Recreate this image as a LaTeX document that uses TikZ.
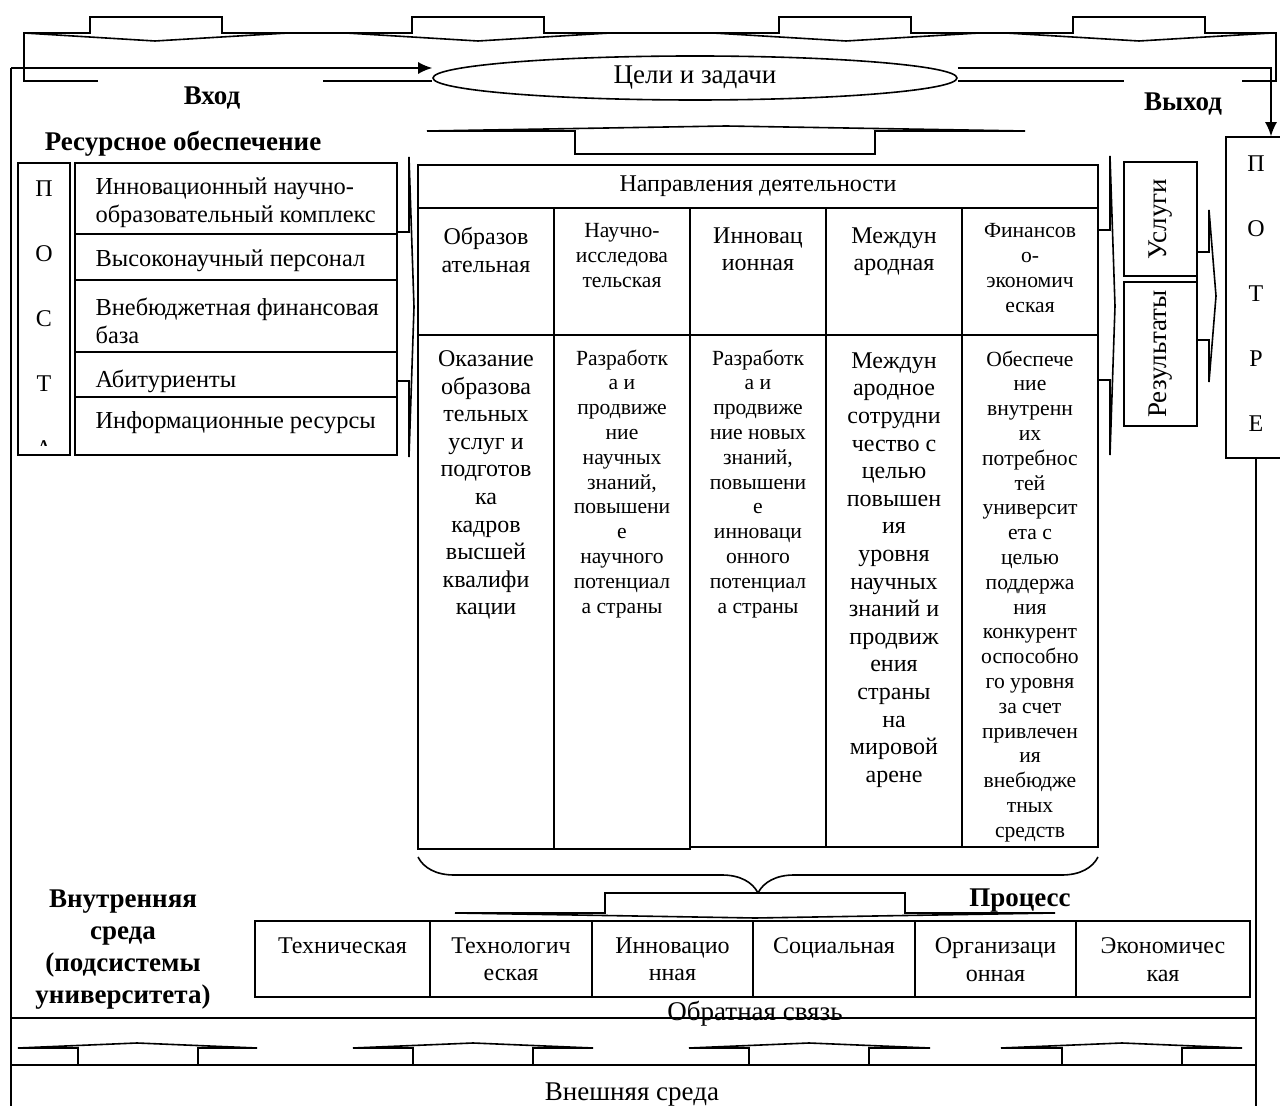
\documentclass[tikz,border=0pt]{standalone}
\usepackage{fontspec}
\setmainfont{Liberation Serif}
\usetikzlibrary{positioning, fit, shapes.geometric, arrows.meta, decorations.pathreplacing}

\begin{document}
\begin{tikzpicture}[
          x=0.5pt, y=-0.5pt,
          font=\fontsize{12}{13.8}\selectfont,
          wire/.style={line width=0.8pt},
          cell/.style={draw, line width=0.8pt, inner sep=0pt},
          barrow/.style={draw, fill=white, line width=0.8pt},
          big/.style={align=center, inner sep=0pt, font=\fontsize{12}{13.8}\selectfont},
          small/.style={align=center, inner sep=0pt, font=\fontsize{10.8}{12.4}\selectfont},
          res/.style={align=left, inner sep=0pt, font=\fontsize{12.2}{14.2}\selectfont},
          bigger/.style={align=center, inner sep=0pt, font=\fontsize{13.5}{15}\selectfont},
          lbl/.style={align=center, inner sep=0pt, font=\fontsize{13.5}{16}\selectfont\bfseries},
          tip/.style={-{Latex[length=7pt, width=6pt]}}
        ]
        \useasboundingbox (0,0) rectangle (1280,1106);

        % goals and the input / output frame
        \node[ellipse, draw, line width=0.8pt, minimum width=262pt, minimum height=22pt, inner sep=0pt, bigger] (goal) at (695,78) {Цели и задачи};
        \coordinate (inA) at (11,68);
        \coordinate (outA) at (1271,68);
        \coordinate (vL) at (323,81);
        \coordinate (vR) at (1124,81);
        \draw[wire] (98,81) -- (24,81) -- (24,33) -- (1276,33) -- (1276,81) -- (1242,81);
        \draw[wire] (vL) -- (vL -| goal.west);
        \draw[wire] (goal.east |- vR) -- (vR);
        \draw[barrow] (24,33) -- (90,33) -- (90,17) -- (222,17) -- (222,33) -- (288,33) -- (155,41) -- cycle;
        \draw[barrow] (346,33) -- (412,33) -- (412,17) -- (544,17) -- (544,33) -- (610,33) -- (478,41) -- cycle;
        \draw[barrow] (713,33) -- (779,33) -- (779,17) -- (911,17) -- (911,33) -- (979,33) -- (846,41) -- cycle;
        \draw[barrow] (1006,33) -- (1073,33) -- (1073,17) -- (1205,17) -- (1205,33) -- (1272,33) -- (1139,41) -- cycle;
        \node[lbl] (inl) at (212,98) {Вход};
        \node[lbl] (outl) at (1183,104) {Выход};
        \node[lbl] (resl) at (183,144) {Ресурсное обеспечение};
        \draw[barrow] (427,131) -- (575,131) -- (575,154) -- (875,154) -- (875,131) -- (1025,131) -- (726,126) -- cycle;

        % resources
        \node[cell, fit={(18,163) (70,455)}] (post) {};
        \begin{scope}
          \clip (18,163) rectangle (70,446);
          \node[big, font=\fontsize{12}{32.5}\selectfont, anchor=north] (postt) at (44,180) {П\\О\\С\\Т\\А};
        \end{scope}
        \node[cell, fit={(75,163) (397,234)}] (r1) {};
        \node[cell, fit={(75,234) (397,280)}] (r2) {};
        \node[cell, fit={(75,280) (397,352)}] (r3) {};
        \node[cell, fit={(75,352) (397,397)}] (r4) {};
        \node[cell, fit={(75,397) (397,455)}] (r5) {};
        \node[res, below right=7.5pt and 10.5pt of r1.north west] (r1t) {Инновационный научно-\\образовательный комплекс};
        \node[res, below right=8pt and 10.5pt of r2.north west] (r2t) {Высоконаучный персонал};
        \node[res, below right=9pt and 10.5pt of r3.north west] (r3t) {Внебюджетная финансовая\\база};
        \node[res, below right=9pt and 10.5pt of r4.north west] (r4t) {Абитуриенты};
        \node[res, below right=7.5pt and 10.5pt of r5.north west] (r5t) {Информационные ресурсы};
        \draw[barrow] (409,157) -- (409,232) -- (397,232) -- (397,381) -- (409,381) -- (409,457) -- (414,307) -- cycle;

        % directions of activity
        \node[cell, fit={(418,165) (1098,208)}] (dirs) {};
        \node[big] (dirst) at (dirs.center) {Направления деятельности};
        \node[cell, fit={(418,208) (554,335)}] (h1) {};
        \node[cell, fit={(554,208) (690,335)}] (h2) {};
        \node[cell, fit={(690,208) (826,335)}] (h3) {};
        \node[cell, fit={(826,208) (962,335)}] (h4) {};
        \node[cell, fit={(962,208) (1098,335)}] (h5) {};
        \node[cell, fit={(418,335) (554,849)}] (b1) {};
        \node[cell, fit={(554,335) (690,849)}] (b2) {};
        \node[cell, fit={(690,335) (826,847)}] (b3) {};
        \node[cell, fit={(826,335) (962,847)}] (b4) {};
        \node[cell, fit={(962,335) (1098,847)}] (b5) {};
        \node[big, below=10pt of h1.north] (h1t) {Образов\\ательная};
        \node[small, below=8pt of h2.north] (h2t) {Научно-\\исследова\\тельская};
        \node[big, below=10pt of h3.north] (h3t) {Инновац\\ионная};
        \node[big, below=10pt of h4.north] (h4t) {Междун\\ародная};
        \node[small, below=8pt of h5.north] (h5t) {Финансов\\о-\\экономич\\еская};
        \node[big, below=8pt of b1.north] (b1t) {Оказание\\образова\\тельных\\услуг и\\подготов\\ка\\кадров\\высшей\\квалифи\\кации};
        \node[small, below=7.5pt of b2.north] (b2t) {Разработк\\а и\\продвиже\\ние\\научных\\знаний,\\повышени\\е\\научного\\потенциал\\а страны};
        \node[small, below=7.5pt of b3.north] (b3t) {Разработк\\а и\\продвиже\\ние новых\\знаний,\\повышени\\е\\инноваци\\онного\\потенциал\\а страны};
        \node[big, below=9pt of b4.north] (b4t) {Междун\\ародное\\сотрудни\\чество с\\целью\\повышен\\ия\\уровня\\научных\\знаний и\\продвиж\\ения\\страны\\на\\мировой\\арене};
        \node[small, below=8pt of b5.north] (b5t) {Обеспече\\ние\\внутренн\\их\\потребнос\\тей\\университ\\ета с\\целью\\поддержа\\ния\\конкурент\\оспособно\\го уровня\\за счет\\привлечен\\ия\\внебюдже\\тных\\средств};
        \draw[barrow] (1110,156) -- (1110,230) -- (1098,230) -- (1098,380) -- (1110,380) -- (1110,455) -- (1115,306) -- cycle;

        % outputs and consumers
        \node[cell, fit={(1124,162) (1197,276)}] (srv) {};
        \node[cell, fit={(1124,282) (1197,426)}] (rsl) {};
        \node[bigger, rotate=90] (srvt) at (srv.center) {Услуги};
        \node[bigger, rotate=90] (rslt) at (rsl.center) {Результаты};
        \draw[barrow] (1209,210) -- (1209,252) -- (1197,252) -- (1197,340) -- (1209,340) -- (1209,382) -- (1216,296) -- cycle;
        \node[cell, fit={(1226,137) (1292,458)}] (potr) {};
        \node[big, font=\fontsize{12}{32.5}\selectfont, anchor=north] (potrt) at (1256,155) {П\\О\\Т\\Р\\Е};
        \draw[wire, tip] (inA) -- (inA -| goal.west);
        \draw[wire, tip] (goal.east |- outA) -- (outA) -- (outA |- potr.north);

        % process
        \draw[wire, decorate, decoration={brace, mirror, amplitude=18pt}] (418,857) -- (1098,857);
        \draw[barrow] (455,913) -- (605,913) -- (605,893) -- (905,893) -- (905,913) -- (1055,913) -- (755,918) -- cycle;
        \node[lbl] (procl) at (1020,901) {Процесс};
        \node[lbl] (innerl) at (123,950) {Внутренняя\\среда\\(подсистемы\\университета)};
        \node[cell, fit={(255,921) (430,997)}] (s1) {};
        \node[cell, fit={(430,921) (592,997)}] (s2) {};
        \node[cell, fit={(592,921) (753,997)}] (s3) {};
        \node[cell, fit={(753,921) (915,997)}] (s4) {};
        \node[cell, fit={(915,921) (1076,997)}] (s5) {};
        \node[cell, fit={(1076,921) (1250,997)}] (s6) {};
        \node[big, below=8.5pt of s1.north] (s1t) {Техническая};
        \node[big, below=8.5pt of s2.north] (s2t) {Технологич\\еская};
        \node[big, below=8.5pt of s3.north] (s3t) {Инновацио\\нная};
        \node[big, below=8.5pt of s4.north] (s4t) {Социальная};
        \node[big, below=8.5pt of s5.north] (s5t) {Организаци\\онная};
        \node[big, below=8.5pt of s6.north] (s6t) {Экономичес\\кая};

        % feedback and external environment
        \node[cell, fit={(11,1065) (1256,1112)}] (env) {};
        \node[bigger] (envt) at (632,1095) {Внешняя среда};
        \coordinate (fbL) at (11,1018);
        \coordinate (fbR) at (1256,1018);
        \draw[wire] (inA) -- (inA |- env.north);
        \draw[wire] (fbR |- potr.south) -- (fbR |- env.north);
        \draw[wire] (fbL) -- (fbR);
        \node[bigger] (fbt) at (755,1014) {Обратная связь};
        \draw[barrow] (18,1048) -- (78,1048) -- (78,1065) -- (198,1065) -- (198,1048) -- (257,1048) -- (137,1043) -- cycle;
        \draw[barrow] (353,1048) -- (413,1048) -- (413,1065) -- (533,1065) -- (533,1048) -- (593,1048) -- (473,1043) -- cycle;
        \draw[barrow] (689,1048) -- (749,1048) -- (749,1065) -- (869,1065) -- (869,1048) -- (930,1048) -- (809,1043) -- cycle;
        \draw[barrow] (1001,1048) -- (1062,1048) -- (1062,1065) -- (1182,1065) -- (1182,1048) -- (1242,1048) -- (1122,1043) -- cycle;
      \end{tikzpicture}
\end{document}
